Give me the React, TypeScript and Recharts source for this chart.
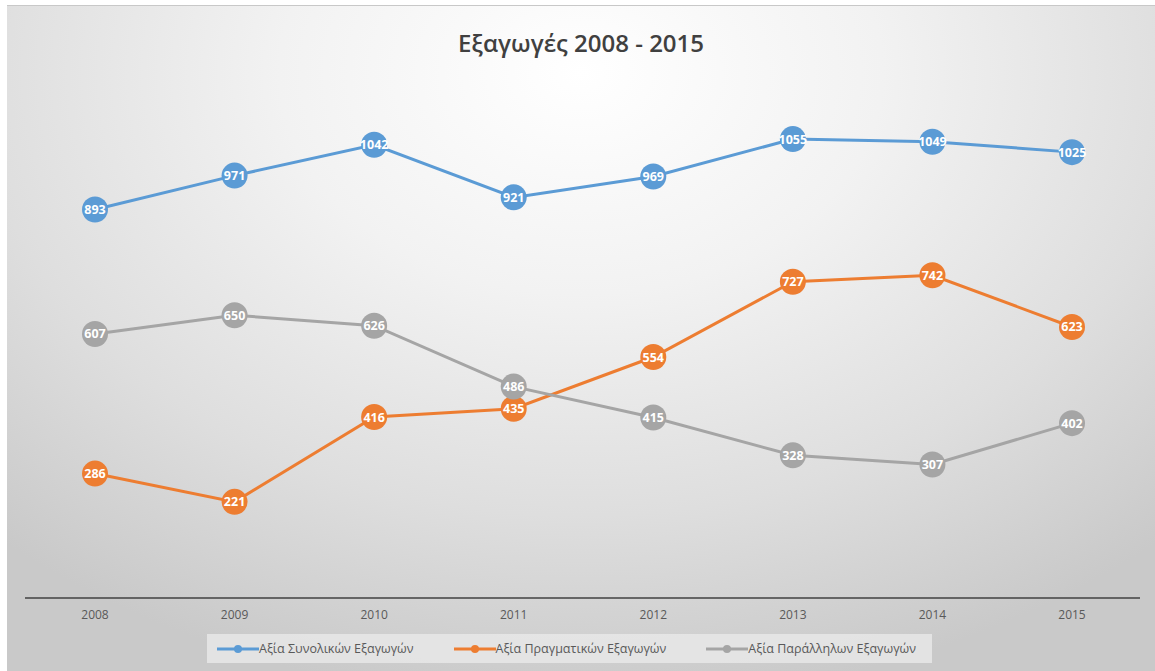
import React from "react";
import {
  LineChart,
  Line,
  XAxis,
  YAxis,
  Legend,
  LabelList,
} from "recharts";

const years = ["2008", "2009", "2010", "2011", "2012", "2013", "2014", "2015"];
const totalExports = [893, 971, 1042, 921, 969, 1055, 1049, 1025];
const realExports = [286, 221, 416, 435, 554, 727, 742, 623];
const parallelExports = [607, 650, 626, 486, 415, 328, 307, 402];

const SERIES = [
  { key: "total", name: "Αξία Συνολικών Εξαγωγών", color: "#5B9BD5" },
  { key: "real", name: "Αξία Πραγματικών Εξαγωγών", color: "#ED7D31" },
  { key: "parallel", name: "Αξία Παράλληλων Εξαγωγών", color: "#A5A5A5" },
];

const data = years.map((year, i) => ({
  year,
  total: totalExports[i],
  real: realExports[i],
  parallel: parallelExports[i],
}));

const FONT = "'Open Sans', 'DejaVu Sans', sans-serif";

const renderLabel = (props: any) => {
  const { x, y, value } = props;
  return (
    <text
      x={x}
      y={y}
      dy={4.5}
      textAnchor="middle"
      fill="#ffffff"
      fontFamily={FONT}
      fontWeight={700}
      fontSize={12.5}
    >
      {value}
    </text>
  );
};

const CustomLegend = () => (
  <div
    style={{
      display: "flex",
      alignItems: "center",
      width: 725,
      height: 29,
      marginLeft: 200,
      background: "rgba(235,235,235,0.75)",
      fontFamily: FONT,
      fontSize: 12.5,
      color: "#595959",
    }}
  >
    {SERIES.map((s, i) => (
      <div
        key={s.key}
        style={{
          display: "flex",
          alignItems: "center",
          marginLeft: i === 0 ? 10 : 40,
        }}
      >
        <svg width={42} height={10}>
          <line x1={0} y1={5} x2={42} y2={5} stroke={s.color} strokeWidth={3} />
          <circle cx={21} cy={5} r={4} fill={s.color} />
        </svg>
        <span>{s.name}</span>
      </div>
    ))}
  </div>
);

export default function App() {
  return (
    <div
      style={{
        position: "absolute",
        left: 7,
        top: 5,
        width: 1148,
        height: 666,
        borderTop: "1px solid #c8c8c8",
        background:
          "radial-gradient(ellipse 75% 95% at 50% 10%, #ffffff 0%, #f2f2f2 35%, #dedede 70%, #c9c9c9 100%)",
      }}
    >
      <div
        style={{
          position: "absolute",
          top: 20,
          left: 0,
          width: 1148,
          textAlign: "center",
          fontFamily: FONT,
          fontWeight: 600,
          fontSize: 24,
          color: "#404040",
        }}
      >
        Εξαγωγές 2008 - 2015
      </div>
      <LineChart
        width={1148}
        height={666}
        data={data}
        margin={{ top: 70, right: 15, bottom: 0, left: 18 }}
      >
        <XAxis
          dataKey="year"
          axisLine={{ stroke: "#404040", strokeWidth: 1.5 }}
          tickLine={false}
          height={45}
          padding={{ left: 70, right: 68 }}
          tick={{ fill: "#595959", fontSize: 12, fontFamily: FONT }}
          dy={4}
        />
        <YAxis hide domain={[0, 1200]} />
        <Legend
          verticalAlign="bottom"
          align="left"
          content={() => <CustomLegend />}
          wrapperStyle={{ bottom: 9, left: 0, height: 29 }}
        />
        {SERIES.map((s) => (
          <Line
            key={s.key}
            dataKey={s.key}
            name={s.name}
            stroke={s.color}
            strokeWidth={3}
            dot={{ r: 13, fill: s.color, stroke: "none" }}
            activeDot={false}
            isAnimationActive={false}
          >
            <LabelList dataKey={s.key} content={renderLabel} />
          </Line>
        ))}
      </LineChart>
    </div>
  );
}
